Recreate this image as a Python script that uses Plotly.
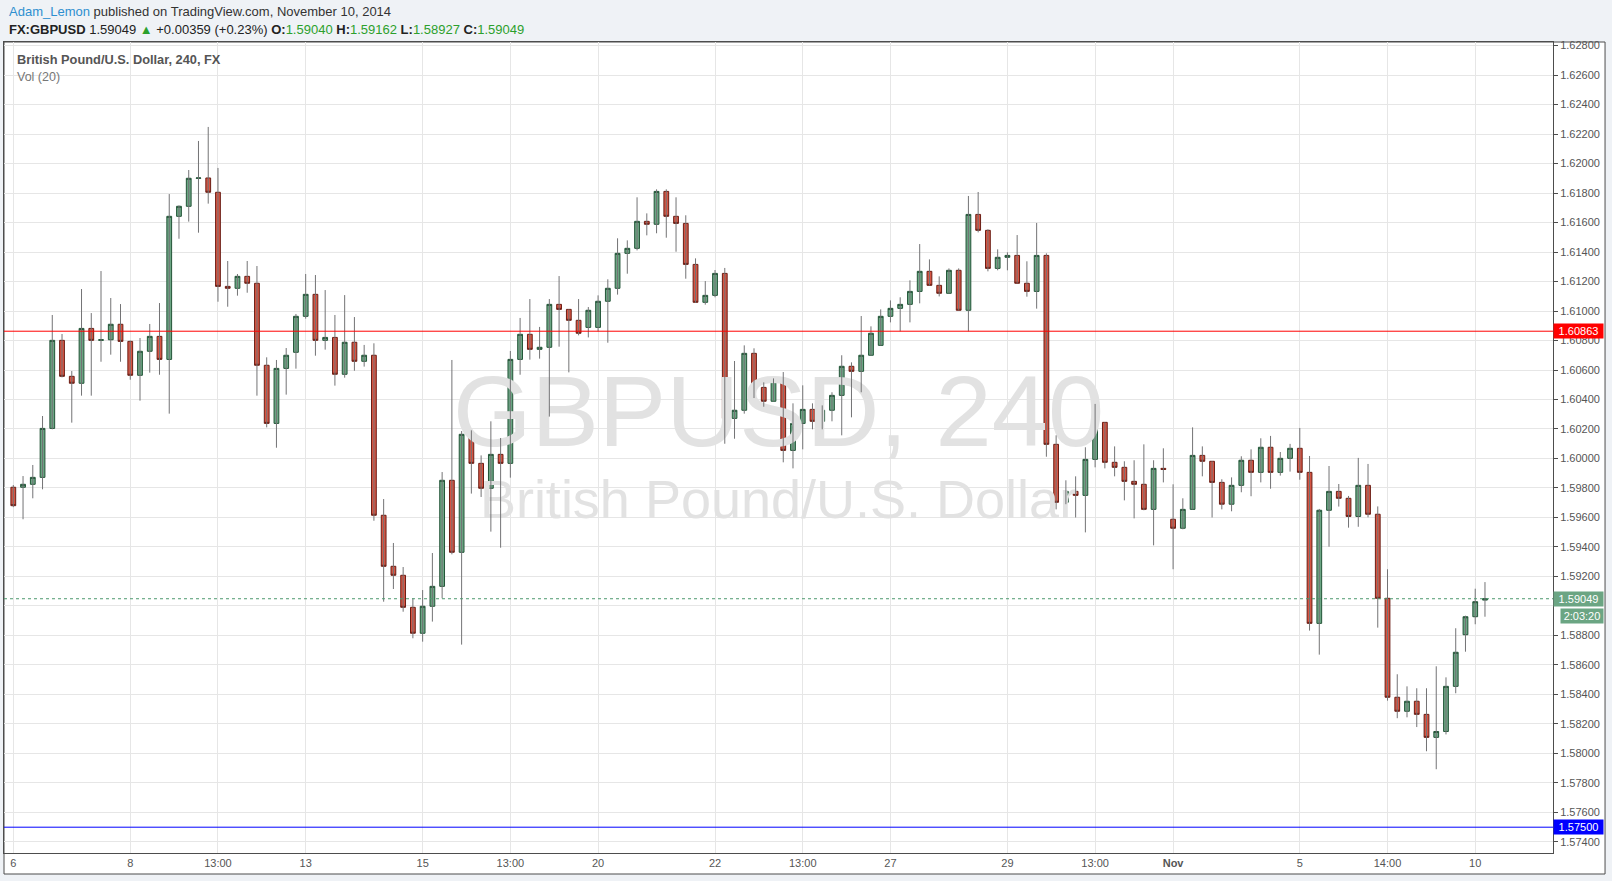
import plotly.graph_objects as go

# ---------------- data (GBPUSD 4h candles) ----------------
opens = [1.59805, 1.59805, 1.59825, 1.59872, 1.60204, 1.60801, 1.60557, 1.6051, 1.60882, 1.60801,
         1.60805, 1.6091, 1.60794, 1.60564, 1.60727, 1.60828, 1.60672, 1.61642, 1.6171, 1.619,
         1.61902, 1.61805, 1.61167, 1.61154, 1.61235, 1.61188, 1.60632, 1.60238, 1.60611, 1.6072,
         1.60964, 1.61113, 1.60801, 1.60821, 1.60571, 1.60788, 1.60659, 1.607, 1.59615, 1.59269,
         1.59208, 1.58991, 1.58815, 1.58998, 1.59133, 1.59852, 1.59364, 1.60164, 1.59967, 1.59798,
         1.60028, 1.59967, 1.60672, 1.60842, 1.6074, 1.60754, 1.61045, 1.61011, 1.60937, 1.60889,
         1.60889, 1.61066, 1.61154, 1.61391, 1.61425, 1.61608, 1.61588, 1.61811, 1.61642, 1.61594,
         1.61316, 1.61059, 1.61106, 1.61255, 1.60272, 1.60327, 1.60713, 1.60482, 1.60388, 1.60543,
         1.60055, 1.60238, 1.60333, 1.60252, 1.60327, 1.60428, 1.60625, 1.60591, 1.607, 1.60767,
         1.60964, 1.61018, 1.61045, 1.61133, 1.61269, 1.61174, 1.6112, 1.61276, 1.61005, 1.61655,
         1.61547, 1.61289, 1.61364, 1.61377, 1.61188, 1.61133, 1.61377, 1.60096, 1.59703, 1.59777,
         1.5975, 1.59994, 1.60245, 1.59974, 1.5994, 1.59845, 1.59825, 1.59655, 1.59933, 1.59588,
         1.59527, 1.59655, 1.60021, 1.59981, 1.59838, 1.5969, 1.59818, 1.59988, 1.59906, 1.60076,
         1.59906, 1.60001, 1.60069, 1.59906, 1.58882, 1.59649, 1.59777, 1.5973, 1.59607, 1.59818,
         1.59622, 1.59052, 1.58381, 1.58286, 1.58354, 1.58265, 1.58109, 1.58149, 1.58455, 1.58805,
         1.58927, 1.5904]
highs = [1.5982, 1.59881, 1.59956, 1.60288, 1.60973, 1.60844, 1.60593, 1.61149, 1.60986, 1.61271,
         1.61088, 1.61047, 1.608, 1.60817, 1.60912, 1.61054, 1.61793, 1.61716, 1.61956, 1.62153,
         1.62248, 1.6197, 1.61339, 1.61251, 1.61339, 1.61305, 1.60686, 1.60668, 1.60749, 1.6098,
         1.61251, 1.61244, 1.61142, 1.60973, 1.61108, 1.60959, 1.6077, 1.60781, 1.59725, 1.59427,
         1.59264, 1.59052, 1.59108, 1.59359, 1.59908, 1.60668, 1.60186, 1.60191, 1.60021, 1.60252,
         1.60139, 1.60729, 1.60953, 1.61081, 1.60892, 1.61081, 1.61237, 1.61011, 1.61081, 1.61027,
         1.61106, 1.61215, 1.61493, 1.61479, 1.61771, 1.61662, 1.61825, 1.61825, 1.61771, 1.61649,
         1.61357, 1.61203, 1.61278, 1.61292, 1.60661, 1.60767, 1.60747, 1.60516, 1.60543, 1.60586,
         1.60374, 1.60496, 1.60374, 1.6036, 1.60449, 1.607, 1.60652, 1.60966, 1.60896, 1.61011,
         1.61072, 1.61093, 1.61208, 1.61454, 1.6135, 1.61235, 1.61289, 1.61289, 1.6178, 1.61807,
         1.61554, 1.61418, 1.61398, 1.61515, 1.61337, 1.61597, 1.61391, 1.60157, 1.59852, 1.59879,
         1.60076, 1.6037, 1.60245, 1.60082, 1.59981, 1.59988, 1.60096, 1.59988, 1.60069, 1.59825,
         1.5973, 1.60211, 1.60082, 1.59981, 1.59859, 1.59872, 1.60015, 1.60062, 1.60137, 1.60153,
         1.60044, 1.60099, 1.60207, 1.60017, 1.59658, 1.59949, 1.59827, 1.59746, 1.60004, 1.59963,
         1.59675, 1.59249, 1.58537, 1.58455, 1.58442, 1.58442, 1.58591, 1.58516, 1.58849, 1.58934,
         1.59117, 1.59162]
lows = [1.5967, 1.59588, 1.5973, 1.59791, 1.60198, 1.6055, 1.60243, 1.60426, 1.60426, 1.60656,
        1.60704, 1.60656, 1.60534, 1.60392, 1.60582, 1.60568, 1.60304, 1.6149, 1.61606, 1.61531,
        1.61728, 1.61063, 1.61029, 1.61104, 1.61124, 1.60426, 1.60211, 1.60073, 1.60433, 1.60609,
        1.60948, 1.60697, 1.60738, 1.60494, 1.60548, 1.60595, 1.60623, 1.59578, 1.59029, 1.59115,
        1.58961, 1.58781, 1.58758, 1.58894, 1.59052, 1.5935, 1.58738, 1.59762, 1.59739, 1.59504,
        1.59395, 1.5987, 1.60568, 1.6067, 1.60677, 1.60284, 1.60758, 1.60584, 1.60835, 1.60821,
        1.60862, 1.60785, 1.61111, 1.61253, 1.61411, 1.61513, 1.61527, 1.61497, 1.61402, 1.61219,
        1.61055, 1.61043, 1.61093, 1.601, 1.60134, 1.60304, 1.6041, 1.60351, 1.60388, 1.59974,
        1.59933, 1.60062, 1.60198, 1.60198, 1.60252, 1.60157, 1.60279, 1.60449, 1.607, 1.60767,
        1.60923, 1.60862, 1.60923, 1.61052, 1.61174, 1.61099, 1.6112, 1.61005, 1.60862, 1.61533,
        1.61269, 1.61276, 1.61276, 1.61188, 1.61097, 1.61016, 1.60012, 1.59655, 1.5969, 1.596,
        1.59499, 1.5994, 1.59933, 1.59879, 1.59716, 1.59594, 1.59649, 1.59411, 1.59838, 1.59249,
        1.5952, 1.59655, 1.59879, 1.596, 1.59655, 1.59642, 1.59771, 1.59744, 1.59838, 1.59795,
        1.59884, 1.59911, 1.59856, 1.58833, 1.5867, 1.59402, 1.59674, 1.59531, 1.59537, 1.59601,
        1.58853, 1.58358, 1.58239, 1.58245, 1.58179, 1.58015, 1.57893, 1.58129, 1.58408, 1.5869,
        1.58876, 1.58927]
closes = [1.5968, 1.59825, 1.59872, 1.60204, 1.60801, 1.60557, 1.6051, 1.60882, 1.60801, 1.60805,
          1.6091, 1.60794, 1.60564, 1.60727, 1.60828, 1.60672, 1.61642, 1.6171, 1.619, 1.61902,
          1.61805, 1.61167, 1.61154, 1.61235, 1.61188, 1.60632, 1.60238, 1.60611, 1.607, 1.60964,
          1.61113, 1.60801, 1.60821, 1.60571, 1.60788, 1.60659, 1.607, 1.59615, 1.59269, 1.59208,
          1.58991, 1.58815, 1.58998, 1.59133, 1.59852, 1.59364, 1.60164, 1.59967, 1.59798, 1.60028,
          1.59967, 1.60672, 1.60842, 1.6074, 1.60754, 1.61045, 1.61011, 1.60937, 1.60849, 1.61005,
          1.61066, 1.61154, 1.61391, 1.61425, 1.61608, 1.61588, 1.61811, 1.61642, 1.61594, 1.61316,
          1.61059, 1.61106, 1.61255, 1.60272, 1.60327, 1.60713, 1.60482, 1.60388, 1.60543, 1.60055,
          1.60238, 1.60333, 1.60252, 1.60327, 1.60428, 1.60625, 1.60591, 1.607, 1.60849, 1.60964,
          1.61018, 1.61045, 1.61133, 1.61269, 1.61174, 1.6112, 1.61276, 1.61005, 1.61655, 1.61547,
          1.61289, 1.61364, 1.61377, 1.61188, 1.61133, 1.61377, 1.60096, 1.59703, 1.59777, 1.5975,
          1.59994, 1.60245, 1.59974, 1.5994, 1.59845, 1.59825, 1.59655, 1.59933, 1.59926, 1.59527,
          1.59655, 1.60021, 1.59981, 1.59838, 1.5969, 1.59818, 1.59988, 1.59906, 1.60076, 1.59906,
          1.60001, 1.60069, 1.59906, 1.58882, 1.59649, 1.59777, 1.5973, 1.59607, 1.59818, 1.59622,
          1.59052, 1.58381, 1.58286, 1.58354, 1.58265, 1.58109, 1.58149, 1.58455, 1.58686, 1.58927,
          1.59029, 1.59049]

# x-axis labels: candle index where each label sits, and its text
tick_index = [0, 12, 21, 30, 42, 51, 60, 72, 81, 90, 102, 111, 119, 132, 141, 150]
tick_text = ["6", "8", "13:00", "13", "15", "13:00", "20", "22", "13:00", "27", "29", "13:00",
             "<b>Nov</b>", "5", "14:00", "10"]
price_ticks = [1.574, 1.576, 1.578, 1.580, 1.582, 1.584, 1.586, 1.588, 1.590, 1.592, 1.594,
               1.596, 1.598, 1.600, 1.602, 1.604, 1.606, 1.608, 1.610, 1.612, 1.614, 1.616,
               1.618, 1.620, 1.622, 1.624, 1.626, 1.628]

level_red = 1.60863
level_blue = 1.57500
countdown = "2:03:20"
header_change = "+0.00359 (+0.23%)"

# ---------------- styles ----------------
UP_FILL, UP_LINE = "#6ba583", "#225437"
DN_FILL, DN_LINE = "#d75442", "#6b1e15"
WICK = "#737375"
GRID = "#e6e6e6"
AXIS = "#4d4d4d"
TXT = "#555555"
FONT = "Arial"

n = len(closes)
xs = list(range(n))
body_lo = [min(o, c) for o, c in zip(opens, closes)]
body_hi = [max(o, c) for o, c in zip(opens, closes)]

wx, wy = [], []
for i in xs:
    wx += [i, i, None]
    wy += [lows[i], highs[i], None]

x_range = [-0.954, 157.98]
y_range = [1.57325, 1.62824]

fig = go.Figure()

# watermark (below everything)
fig.add_trace(go.Scatter(
    x=[(x_range[0] + x_range[1]) / 2] * 2,
    y=[y_range[0] + 0.533 * (y_range[1] - y_range[0]), y_range[0] + 0.430 * (y_range[1] - y_range[0])],
    mode="text", text=["GBPUSD, 240", "British Pound/U.S. Dollar"],
    textfont=dict(family=FONT, size=[101, 54], color="#e2e2e2"),
    hoverinfo="skip", showlegend=False))

# wicks
fig.add_trace(go.Scatter(x=wx, y=wy, mode="lines", line=dict(color=WICK, width=1),
                         hoverinfo="skip", showlegend=False))

# bodies
fig.add_trace(go.Candlestick(
    x=xs, open=opens, close=closes, low=body_lo, high=body_hi,
    increasing=dict(fillcolor=UP_FILL, line=dict(color=UP_LINE, width=1)),
    decreasing=dict(fillcolor=DN_FILL, line=dict(color=DN_LINE, width=1)),
    whiskerwidth=0, hoverinfo="skip", showlegend=False))

shapes = [
    # outer white panel
    dict(type="rect", xref="paper", yref="paper", x0=0, x1=1.0336, y0=-0.0259, y1=1,
         line=dict(color=AXIS, width=1), fillcolor="white", layer="below"),
    dict(type="line", xref="paper", yref="y", x0=0, x1=1, y0=level_red, y1=level_red,
         line=dict(color="#ff0000", width=1)),
    dict(type="line", xref="paper", yref="y", x0=0, x1=1, y0=level_blue, y1=level_blue,
         line=dict(color="#0000ff", width=1)),
    dict(type="line", xref="paper", yref="y", x0=0, x1=1, y0=closes[-1], y1=closes[-1],
         line=dict(color="#4e9a6e", width=1, dash="dot")),
]

def price_box(y, text, bg, yshift=0, width=47, xshift=0):
    return dict(xref="paper", yref="y", x=1, y=y, xanchor="left", yanchor="middle",
                text=text, showarrow=False, bgcolor=bg, borderpad=1, width=width, height=12,
                xshift=xshift, yshift=yshift, align="center",
                font=dict(family=FONT, size=11, color="white"))

annotations = [
    price_box(level_red, "%.5f" % level_red, "#ff0000"),
    price_box(level_blue, "%.5f" % level_blue, "#0000ff"),
    price_box(closes[-1], "%.5f" % closes[-1], "#6ba583"),
    price_box(closes[-1], countdown, "#6ba583", yshift=-17, width=40, xshift=7),
    # legend text inside the pane
    dict(xref="paper", yref="paper", x=0.0071, y=0.978, xanchor="left", yanchor="middle",
         showarrow=False, text="<b>British Pound/U.S. Dollar, 240, FX</b>",
         font=dict(family=FONT, size=12.8, color=TXT)),
    dict(xref="paper", yref="paper", x=0.0071, y=0.957, xanchor="left", yanchor="middle",
         showarrow=False, text="Vol (20)", font=dict(family=FONT, size=12.5, color="#777777")),
    # header
    dict(xref="paper", yref="paper", x=0.002, y=1.037, xanchor="left", yanchor="middle",
         showarrow=False,
         text="<span style='color:#2e8fd0'>Adam_Lemon</span> published on TradingView.com, November 10, 2014",
         font=dict(family=FONT, size=13, color="#333333")),
    dict(xref="paper", yref="paper", x=0.002, y=1.016, xanchor="left", yanchor="middle",
         showarrow=False,
         text=("<b>FX:GBPUSD</b> %.5f <span style='color:#2ca02c'>▲</span> %s "
               "<b>O:</b><span style='color:#2ca02c'>%.5f</span> "
               "<b>H:</b><span style='color:#2ca02c'>%.5f</span> "
               "<b>L:</b><span style='color:#2ca02c'>%.5f</span> "
               "<b>C:</b><span style='color:#2ca02c'>%.5f</span>")
              % (closes[-1], header_change, opens[-1], highs[-1], lows[-1], closes[-1]),
         font=dict(family=FONT, size=13, color="#222222")),
]

# the last-price badge covers the nearest axis label in the original
y_labels = ["" if abs(v - closes[-1]) < 0.0012 else "%.5f" % v for v in price_ticks]

fig.update_layout(
    width=1612, height=881,
    margin=dict(l=4, r=59, t=42, b=28),
    paper_bgcolor="#eff2f6", plot_bgcolor="white",
    shapes=shapes, annotations=annotations,
    showlegend=False,
    xaxis=dict(range=x_range, tickmode="array", tickvals=tick_index, ticktext=tick_text,
               showgrid=True, gridcolor=GRID, gridwidth=1, zeroline=False,
               showline=True, linecolor=AXIS, linewidth=1, mirror=True,
               ticks="", tickfont=dict(family=FONT, size=11, color=TXT),
               rangeslider=dict(visible=False), fixedrange=True),
    yaxis=dict(range=y_range, side="right", tickmode="array", tickvals=price_ticks,
               ticktext=y_labels,
               showgrid=True, gridcolor=GRID, gridwidth=1, zeroline=False,
               showline=True, linecolor=AXIS, linewidth=1, mirror=True,
               ticks="outside", ticklen=4, tickcolor=AXIS,
               tickfont=dict(family=FONT, size=11, color=TXT), fixedrange=True),
)

fig.write_html("out.html", config={"displayModeBar": False},
               post_script="document.body.style.margin='0px';document.body.style.padding='0px';")
